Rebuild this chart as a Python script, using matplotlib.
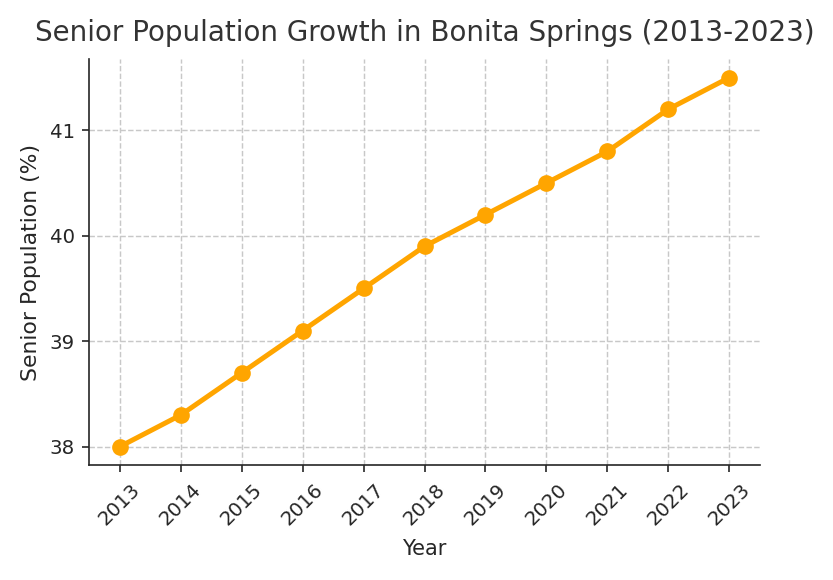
"""
Senior population growth in Bonita Springs
"""

import matplotlib

matplotlib.use("Agg")
import matplotlib.pyplot as plt
import seaborn as sns

years = [2013, 2014, 2015, 2016, 2017, 2018, 2019, 2020, 2021, 2022, 2023]
senior_pct = [38.0, 38.3, 38.7, 39.1, 39.5, 39.9, 40.2, 40.5, 40.8, 41.2, 41.5]

sns.set_style("ticks")
plt.rcParams["font.family"] = ["DejaVu Sans"]

fig = plt.figure(figsize=(5.56, 3.867), dpi=150)
ax = fig.add_subplot(111)
fig.subplots_adjust(left=0.107, right=0.911, top=0.898, bottom=0.198)

# plot the series
ax.plot(years, senior_pct, marker="o", color="orange", linewidth=2.4, markersize=7)

# labels and title
ax.set_title("Senior Population Growth in Bonita Springs (2013-2023)", fontsize=13.3, color="#333333", pad=8.5)
ax.set_xlabel("Year", fontsize=10, labelpad=5)
ax.set_ylabel("Senior Population (%)", fontsize=10.5)
ax.set_xticks(years)
ax.set_xticklabels([str(y) for y in years], rotation=45)
ax.set_yticks([38, 39, 40, 41])
ax.tick_params(labelsize=9.5)

# dashed grid
ax.grid(True, linestyle="--", color="#c8c8c8", linewidth=0.7)
sns.despine(ax=ax)

plt.savefig("out.png", dpi=150)
